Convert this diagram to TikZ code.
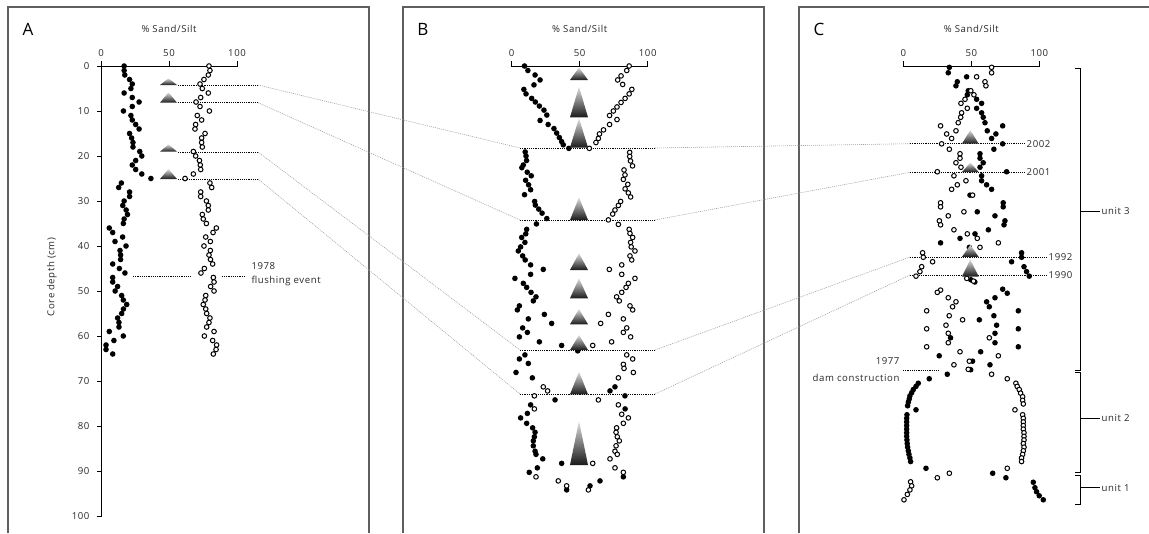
\documentclass[tikz,border=0pt]{standalone}
\usepackage{fontspec}
\setmainfont{Open Sans}[LetterSpace=6]
\usepackage{tikz}
\definecolor{mygray2}{RGB}{40,40,40}
\definecolor{mygray4}{RGB}{95,95,95}
\definecolor{mygray7}{RGB}{160,160,160}
\tikzset{sandpt/.style={fill=black},
  siltpt/.style={draw=black, fill=white, line width=1},
  panelframe/.style={draw=mygray4, line width=1.3},
  axisline/.style={draw=black, line width=0.75},
  eventline/.style={draw=black, line width=0.7, dash pattern=on 1.2pt off 1pt},
  linkline/.style={draw=mygray7, line width=0.6, dash pattern=on 1pt off 1pt},
  lbl/.style={font=\fontsize{9.6}{10}\selectfont, text=mygray2}}
\newcommand{\sedwedge}[4]{\shade[top color=black!12, bottom color=black!90] (#1,#2) -- (#1-#4,#3) -- (#1+#4,#3) -- cycle;}

\begin{document}
\begin{tikzpicture}[x=1pt, y=-1pt]
\useasboundingbox (0,0) rectangle (1149,533);
% panel frames
\draw[panelframe] (8,533) -- (8,7) -- (369,7) -- (369,533);
\draw[panelframe] (403,533) -- (403,7) -- (764,7) -- (764,533);
\draw[panelframe] (799,533) -- (799,7) -- (1149,7);
% top axes
\foreach \p/\x/\fx in {A/101/8, B/511.7/403, C/903.3/799}{
  \node[font=\fontsize{17}{17}\selectfont, text=black] (lt\p) at (\fx+20,29) {\p};
  \node[lbl] (ttl\p) at (\x+68,29) {\% Sand/Silt};
  \draw[axisline] (\x,61) -- (\x,66) -- (\x+136,66) -- (\x+136,61);
  \draw[axisline] (\x+68,66) -- (\x+68,61);
  \node[lbl] (zero\p) at (\x,53) {0};
  \node[lbl] (fifty\p) at (\x+68,53) {50};
  \node[lbl] (hund\p) at (\x+136,53) {100};
}
% depth axis
\draw[axisline] (101,66) -- (101,516.7);
\foreach \d in {0,10,...,100}{
  \draw[axisline] (97,{66+4.5*\d}) -- (101,{66+4.5*\d});
  \node[lbl, anchor=east] (dep\d) at (93,{66+4.5*\d}) {\d};
}
\node[lbl, rotate=90] (depthlbl) at (52,277) {Core depth (cm)};

% correlation lines
\foreach \i/\ya/\yb/\yc/\xe/\yr in {1/85/148/143.7/1025/2002, 2/102.7/220/172.3/1025/2001, 3/152/350/257/1047/1992, 4/179/394/275/1047/1990}{
  \coordinate (a\i s) at (178,\ya);
  \coordinate (a\i) at (258,\ya);
  \coordinate (b\i s) at (520,\yb);
  \coordinate (b\i) at (655,\yb);
  \coordinate (c\i s) at (910,\yc);
  \node[lbl, anchor=west, inner sep=1.5] (yr\i) at (\xe,\yc) {\yr};
  \draw[eventline] (a\i s) -- (a\i);
  \draw[linkline] (a\i) -- (b\i s);
  \draw[eventline] (b\i s) -- (b\i);
  \draw[linkline] (b\i) -- (c\i s);
  \draw[eventline] (c\i s) -- (yr\i);
}
% other events
\node[lbl, anchor=west] (yr78) at (248,266) {1978};
\node[lbl, anchor=west] (flush) at (248,281) {flushing event};
\draw[eventline] (133,276) -- (190.7,276);
\draw[eventline] (221.7,276) -- (245,276);
\node[lbl, anchor=east] (yr77) at (903,360.7) {1977};
\node[lbl, anchor=east] (dam) at (903,378) {dam construction};
\draw[eventline] (903,370) -- (940,370);

% units
\node[lbl, anchor=west, inner sep=1.5] (u3) at (1100,211) {unit 3};
\node[lbl, anchor=west, inner sep=1.5] (u2) at (1100,418) {unit 2};
\node[lbl, anchor=west, inner sep=1.5] (u1) at (1100,487.7) {unit 1};
\draw[axisline] (1075,68) -- (1080,68) -- (1080,370) -- (1075,370);
\draw[axisline] (1075,372) -- (1080,372) -- (1080,472.7) -- (1075,472.7);
\draw[axisline] (1075,475) -- (1080,475) -- (1080,504) -- (1075,504);
\draw[axisline] (1080,211) -- (u3);
\draw[axisline] (1080,418) -- (u2);
\draw[axisline] (1080,487.7) -- (u1);

% core A
\begin{scope}[shift={(101,66)}, x=1.36pt, y=-4.5pt]
\foreach \d/\p in {0/17,1/17,2/17.5,3/21,4/23,5/22,6/17,7/23,8/28,9/23,10/16.5,11/22,12/23,13/25.5,14/28,15/21,16/22.5,17/23.5,18/23.5,19/28.5,20/30,21/25.5,22/23,23/25.5,24/30,25/36.7,26/15,27/13,28/21,29/21,30/17,31/16,32/18.5,33/19.5,34/17,35/16.4,36/6.1,37/8.6,38/15.9,39/10.3,40/18.4,41/14,42/14.4,43/14.4,44/8.6,45/13.5,46/17.6,47/8.6,48/8.6,49/12.2,50/10.4,51/15.2,52/16.4,53/18.9,54/16.5,55/15.2,56/12.2,57/13.2,58/13.2,59/6.1,60/16.4,61/9.5,62/3.7,63/3.7,64/8.6}
  \fill[sandpt] (\p,\d) circle (2.8pt);
\foreach \d/\p in {0/79.4,1/80.1,2/78.9,3/75.7,4/72.8,5/74.5,6/78.9,7/73.3,8/69.9,9/72.8,10/79.7,11/70.8,12/74,13/69.6,14/69.1,15/76.5,16/74,17/74,18/74.5,19/67.9,20/69.6,21/72.4,22/73,23/73.3,24/67.9,25/61.8,26/80.1,27/81.4,28/73.3,29/73.3,30/77.5,31/78.9,32/78.9,33/74.5,34/75.2,35/77.5,36/84.8,37/82.4,38/77,39/80.4,40/75.7,41/80.4,42/79.4,43/80.5,44/82.1,45/76,46/73.5,47/82.6,48/83.1,49/80.6,50/83.1,51/77,52/76.5,53/75.2,54/77,55/77.7,56/80.1,57/79.4,58/77.7,59/83.1,60/76,61/82.1,62/85,63/84.6,64/82.6}
  \draw[siltpt] (\p,\d) circle (2.3pt);
\end{scope}

% core B
\begin{scope}[shift={(511.7,66)}, x=1.35pt, y=-4.5pt]
\foreach \d/\p in {0/9.5,1/12,2/17.3,3.1/21,4.2/16.5,5.2/9,6.2/10.6,7.2/14.8,8/17.5,8.9/20.5,9.8/23.9,10.9/26,12.1/21,13/27,13.9/31.3,14.9/33.3,15.9/35.3,16.8/37,17.5/38.2,18.3/42.3,19.1/10,20/10.6,21/11,22/8.6,22.6/7.5,23.6/11.5,24.4/14.5,25.4/10.3,26.4/12.5,27.5/14,28.6/9.5,30.1/17,30.9/17.5,31.8/20,32.7/22.5,33.9/26,35.1/18.3,36.3/11.1,37.3/10.4,38.1/7.4,39.2/9.8,40.2/6.6,41.1/4.9,42.2/8.1,43.1/10,44.2/14,45.2/23.4,46.3/14,47.2/2.4,48.3/8.6,49.2/11.1,50.3/14.3,51.3/18,52.2/16,53.3/5.7,54.2/4.2,55.2/24.2,56.2/12.3,57.2/29.6,58.2/8.1,59.2/11.6,60.2/5.7,61.3/20.5,62.1/37,63.3/48.9,64.2/9.8,65.1/5.7,66.1/12.3,68.1/3.2,69.3/15.3,71.3/76.5,72.2/72.8,73.3/83.9,74.2/32.1,75.3/14,76.2/84,77.2/11.6,78.2/6.6,79.4/11.1,80.4/15.5,81.4/17.3,82.4/16.8,83.3/16,84.4/16,85.6/17.3,86.3/18,87.3/23,88.3/37,89.3/19,90.3/13,91.3/82.7,92.2/65.4,93.3/58,94.2/40.7}
  \fill[sandpt] (\p,\d) circle (2.8pt);
\foreach \d/\p in {0/87,1/85.2,2.2/81,3.1/78.5,4.1/82.2,5.2/89,6.2/87,7.2/84,8.1/81,9.1/78,10/75.3,11/72.5,11.9/78,13/72.5,14.2/68,15.1/65,16.1/64.2,17/62.4,18.3/57.5,19.2/87.4,20.1/87.4,21.1/88,22.2/89.5,23.1/83.2,24.2/83.9,25.2/82.7,26.3/86,27.3/84,28.2/86.4,29.1/88.1,30.1/80.7,31/79,32/76.5,32.9/74.8,34.2/71.6,35.2/79,36.3/87,37.2/87.6,38.1/89.6,39.2/88.1,40.2/88.5,41.1/91.3,42.2/87.6,43.1/88.9,44.2/81.5,45.2/72.3,46.3/81.5,47.2/91.3,48.3/86.4,49.2/84.7,50.3/81.5,51.3/77.7,52.2/79.7,53.3/87.6,54.2/89.6,55.2/71.6,56.2/82.7,57.2/65.9,58.2/85.2,59.2/82.7,60.2/88.1,61.3/74,62.1/60,64.2/85.2,65.1/89.6,66.3/82.7,67.2/83.2,68.1/90.1,69.3/79,71.3/23.4,72.2/26.6,73.3/16.8,74.2/64.2,75.3/79,76.2/16.8,77.4/81.5,78.2/86.4,79.4/82.7,80.4/77.7,81.4/77.3,82.4/78.2,83.3/79.7,84.4/77.3,85.6/76.5,86.3/78.2,87.3/72.8,88.3/60,89.3/76.5,90.3/82.7,91.3/18,92.2/34.5,93.3/40.7,94.2/56.8}
  \draw[siltpt] (\p,\d) circle (2.3pt);
\end{scope}

% core C
\begin{scope}[shift={(903.3,66)}, x=1.35pt, y=-4.5pt]
\foreach \d/\p in {0.3/34.1,1.5/33.3,2.4/46.9,3.5/40,4.4/39,5.5/48.1,6.4/47.4,7.4/54.3,8.3/58,9.4/54.3,10.4/58,11.4/59.2,12.6/60.5,13.3/73.6,14.4/62.2,15.1/68.6,16.1/65.4,17.3/73.6,18.5/67.1,19.5/56.8,20.5/56.8,21.5/59.2,22.5/56.8,23.5/76.5,24.4/58,25.5/58,26.4/61.7,27.4/65.4,28.7/49.4,30.4/74,31.3/74,32.4/54.8,33.3/67.9,34.4/75.3,35.3/74.6,36.4/63,37.3/53.1,38.3/42,39.3/27.6,40.3/48.9,41.5/87.6,42.5/87.6,43.5/80.2,44.6/89.4,45.7/91.3,46.7/93.3,47.5/50,48/53,49.6/73.6,50.5/77,51.5/67.9,52.4/61.7,53.5/63.7,54.4/85.2,55.5/67.1,56.4/56.3,57.6/69.1,58.4/85.2,59.4/67.9,60.4/35,61.5/67.9,62.4/85.2,63.5/57.3,64.4/26.6,65.6/51.3,66.4/64.2,67.5/49.9,68.5/32.6,69.5/19.2,70.5/11.1,71.2/9.4,71.9/7.4,72.6/6.2,73.3/4.9,74/4.4,74.7/3.7,75.5/3.2,76.4/9.4,77.5/2.7,78.3/2.5,79.1/2.5,79.9/2.5,80.7/2.5,81.5/2.5,82.3/2.5,83.1/2.7,83.9/2.9,84.7/3.2,85.5/3.7,86.3/4.2,87.1/4.9,87.9/5.4,89.4/16.8,90.5/66.2,91.5/76,92.5/96.3,93.7/97.5,94.6/98.7,95.5/100.7,96.4/103.7}
  \fill[sandpt] (\p,\d) circle (2.8pt);
\foreach \d/\p in {0.3/65.4,1.5/65.4,2.4/54.3,3.5/60.5,4.4/61.2,5.5/50,6.4/52.3,7.4/45.7,8.3/42.7,9.4/47.4,10.4/43.2,11.4/42.5,12.6/40.7,13.3/27.6,14.4/39,15.1/32.1,16.1/35.8,17.3/28.4,18.5/34.1,19.5/42,20.5/42,21.5/39,22.5/42.7,23.5/25.2,24.4/37.5,25.5/46.4,26.4/40,27.4/35.8,28.7/51.3,30.4/27.6,31.3/27.6,32.4/44.9,33.3/33.3,34.4/26.7,35.3/27.6,36.4/37.5,37.3/47.4,38.3/54.8,39.3/70.4,40.3/56.8,41.5/14.3,42.5/14.8,43.5/21.7,44.6/13.6,45.7/12.3,46.7/9.4,47.2/47,47.8/52,49.8/27.6,50.3/25.2,51.5/33.3,52.4/39,53.5/36.5,54.4/17.3,55.5/34,56.4/43.9,57.6/31.6,58.4/17.3,59.4/33.3,60.4/63.7,61.5/33.3,62.4/17.3,63.5/42,64.4/70.4,65.6/48.9,66.4/37.5,67.4/48.1,68.5/65.4,69.5/77,70.5/83.4,71.2/84.4,71.9/85.9,72.7/86.9,73.5/88.4,74.3/88.4,75.1/88.9,76.4/82.7,77.5/88.4,78.3/88.9,79.1/88.9,79.9/88.9,80.7/88.9,81.5/89.4,82.3/89.4,83.1/89.4,83.9/88.9,84.7/89.4,85.5/88.9,86.3/88.4,87.1/87.6,87.9/87.6,89.4/77,90.5/34.1,91.5/25.2,92.4/5.4,93.3/6.2,94.2/4.9,95.2/3,96.4/0.5}
  \draw[siltpt] (\p,\d) circle (2.3pt);
\end{scope}

% event wedges
\foreach \ya/\yb in {78.3/85, 92.3/102.7, 144.3/151.7, 169/179}{
  \sedwedge{168.5}{\ya}{\yb}{8.5}
}
\foreach \ya/\yb in {67.5/80, 86.7/117.3, 118.3/147.5, 197.3/220, 253.3/270, 278.3/298.3, 309/324.3, 335/350, 371.7/394.3, 421/465}{
  \sedwedge{579}{\ya}{\yb}{9}
}
\foreach \ya/\yb in {130/143.7, 162.5/172, 245/256.8, 259.5/276.5}{
  \sedwedge{970.3}{\ya}{\yb}{8.3}
}
\end{tikzpicture}
\end{document}
